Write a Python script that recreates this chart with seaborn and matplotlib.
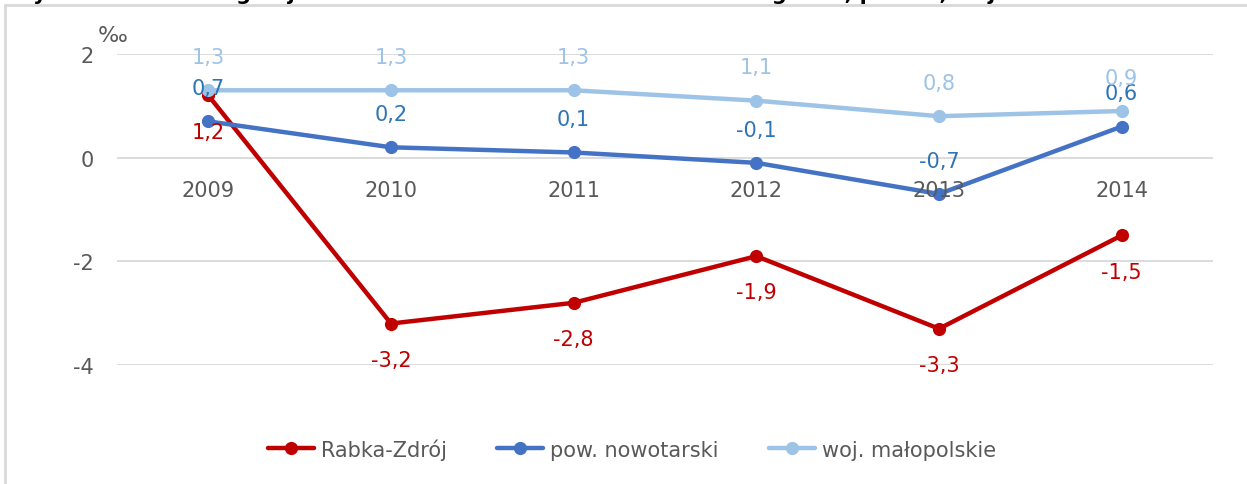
import matplotlib
matplotlib.use("Agg")
import matplotlib.pyplot as plt
from matplotlib.lines import Line2D
import pandas as pd
import seaborn as sns

# dane (saldo migracji, promile)
lata = ["2009", "2010", "2011", "2012", "2013", "2014"]
rabka = [1.2, -3.2, -2.8, -1.9, -3.3, -1.5]
powiat = [0.7, 0.2, 0.1, -0.1, -0.7, 0.6]
wojewodztwo = [1.3, 1.3, 1.3, 1.1, 0.8, 0.9]
serie = ["Rabka-Zdrój", "pow. nowotarski", "woj. małopolskie"]

kolory = ["#C00000", "#4472C4", "#9DC3E6"]
kolory_etykiet = ["#C00000", "#2E75B6", "#9DC3E6"]
szary = "#595959"

df = pd.DataFrame({
    "rok": lata * 3,
    "wartosc": rabka + powiat + wojewodztwo,
    "seria": [s for s in serie for _ in lata],
})

sns.set_style("white")
plt.rcParams["font.family"] = ["DejaVu Sans"]

fig = plt.figure(figsize=(12.47, 4.85), dpi=100)
ax = fig.add_axes([117 / 1247, 1 - 366 / 485, (1213 - 117) / 1247, (366 - 55) / 485])

sns.lineplot(data=df, x="rok", y="wartosc", hue="seria", hue_order=serie,
             palette=kolory, marker="o", markersize=9.5, markeredgewidth=0,
             linewidth=3.2, sort=False, ax=ax)

ax.set_xlim(-0.5, 5.5)
ax.set_ylim(-4, 2)
ax.set_yticks([-4, -2, 0, 2])
ax.set_yticklabels(["-4", "-2", "0", "2"])
ax.grid(axis="y", color="#D9D9D9", linewidth=1.3)
ax.set_axisbelow(True)
ax.set_xlabel("")
ax.set_ylabel("")
ax.set_xticks([])
ax.tick_params(axis="y", length=0, pad=17, labelsize=15, labelcolor=szary)
sns.despine(ax=ax, left=True, bottom=True)

# etykiety lat przy osi zero (jak w Excelu)
for i, rok in enumerate(lata):
    ax.annotate(rok, (i, 0), xytext=(0, -23), textcoords="offset points",
                ha="center", va="center", fontsize=15, color=szary)

# etykiety danych
def fmt(v):
    return f"{v:.1f}".replace(".", ",")

przesuniecia = [-26, 24, 24]
for wartosci, kol, dy in zip([rabka, powiat, wojewodztwo], kolory_etykiet, przesuniecia):
    for i, v in enumerate(wartosci):
        ax.annotate(fmt(v), (i, v), xytext=(0, dy), textcoords="offset points",
                    ha="center", va="center", fontsize=15, color=kol,
                    annotation_clip=False)

fig.text(113 / 1247, 1 - 36 / 485, "‰", fontsize=16, color=szary,
         ha="center", va="center")

# legenda pod wykresem
uchwyty = [Line2D([], [], color=k, linewidth=3.2, marker="o", markersize=9.5,
                  markeredgewidth=0) for k in kolory]
ax.legend(uchwyty, serie, loc="center", bbox_to_anchor=(632 / 1247, 1 - 450 / 485),
          bbox_transform=fig.transFigure, ncol=3, frameon=False, fontsize=15,
          handlelength=2.2, handletextpad=0.35, columnspacing=2.4,
          labelcolor=szary)

# obcięty tytuł (widoczne tylko dolne fragmenty liter) i ramka wykresu
fig.text(10 / 1247, 1 + 0.5 / 485,
         "Wykres 9. Saldo migracji na 1000 ludności w latach 2009-2014 – gmina, powiat, województwo",
         fontsize=15, fontweight="bold", color="black", ha="left", va="baseline")
fig.add_artist(Line2D([5 / 1247, 1], [1 - 6 / 485, 1 - 6 / 485],
                      color="#D9D9D9", linewidth=2, transform=fig.transFigure))
fig.add_artist(Line2D([5 / 1247, 5 / 1247], [0, 1 - 6 / 485],
                      color="#D9D9D9", linewidth=2, transform=fig.transFigure))

fig.savefig("out.png", dpi=100)
